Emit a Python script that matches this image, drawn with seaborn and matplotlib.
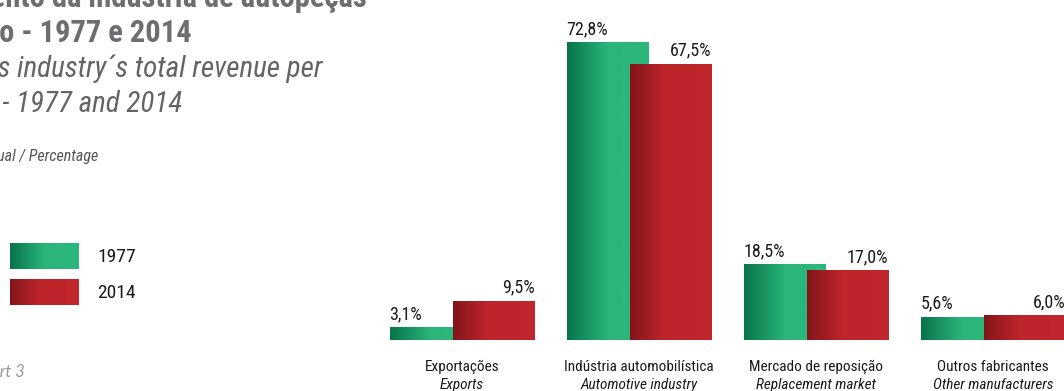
import numpy as np
import pandas as pd
import matplotlib
matplotlib.use("Agg")
import matplotlib.pyplot as plt
from matplotlib import font_manager as fm
from matplotlib.colors import LinearSegmentedColormap
import seaborn as sns

# --- data -------------------------------------------------------------
categories_pt = ["Exportações", "Indústria automobilística",
                 "Mercado de reposição", "Outros fabricantes"]
categories_en = ["Exports", "Automotive industry",
                 "Replacement market", "Other manufacturers"]
years = ["1977", "2014"]
share_1977 = [3.1, 72.8, 18.5, 5.6]
share_2014 = [9.5, 67.5, 17.0, 6.0]

title_pt = ["Faturamento da indústria de autopeças",
            "por destino - 1977 e 2014"]
title_en = ["Auto parts industry´s total revenue per",
            "destination - 1977 and 2014"]
unit_label = "Percentual / Percentage"
source_label = "Gráfico 3 / Chart 3"


def pick(names):
    for n in names:
        try:
            fm.findfont(fm.FontProperties(family=n), fallback_to_default=False)
            return n
        except Exception:
            pass
    return "DejaVu Sans"


NARROW = pick(["Roboto Condensed", "Liberation Sans Narrow", "Liberation Sans"])
SOFT = pick(["Lato", "Open Sans", "DejaVu Sans"])
BODY = NARROW

sns.set_theme(style="white")
plt.rcParams["font.family"] = [BODY, "DejaVu Sans"]

df = pd.DataFrame({
    "categoria": categories_pt * 2,
    "ano": [years[0]] * 4 + [years[1]] * 4,
    "valor": share_1977 + share_2014,
})

W, H = 1064, 391
fig = plt.figure(figsize=(W / 100, H / 100), dpi=100)
ax = fig.add_axes([373.5 / W, 51 / H, 690.3 / W, 327.2 / H])

GREEN_LIGHT = "#2db87a"
RED_LIGHT = "#c0262c"
sns.barplot(data=df, x="categoria", y="valor", hue="ano",
            palette=[GREEN_LIGHT, RED_LIGHT], width=0.712, gap=-0.30,
            legend=False, ax=ax, linewidth=0, saturation=1)

green_cmap = LinearSegmentedColormap.from_list(
    "g", [(0, "#08744a"), (0.5, "#2bb57a"), (1, GREEN_LIGHT)])
red_cmap = LinearSegmentedColormap.from_list(
    "r", [(0, "#82151a"), (0.42, "#bd252b"), (1, RED_LIGHT)])
grad = np.linspace(0, 1, 256)[None, :]

n = len(categories_pt)
patches = list(ax.patches)
for i, p in enumerate(patches):
    cmap = green_cmap if i < n else red_cmap
    x0, y0, w, h = p.get_x(), p.get_y(), p.get_width(), p.get_height()
    im = ax.imshow(grad, extent=[x0, x0 + w, y0, y0 + h], aspect="auto",
                   cmap=cmap, interpolation="bilinear", zorder=2 + i * 0.01)
    im.set_clip_path(p)

# value labels: 1977 left-aligned over its bar, 2014 right-aligned
values = share_1977 + share_2014
for i, p in enumerate(patches):
    txt = f"{values[i]:.1f}%".replace(".", ",")
    if i < n:
        xy, ha = (p.get_x(), p.get_height()), "left"
    else:
        xy, ha = (p.get_x() + p.get_width(), p.get_height()), "right"
    ax.annotate(txt, xy=xy, xytext=(0, 6), textcoords="offset points",
                ha=ha, va="baseline", fontsize=13, color="#1a1a1a",
                zorder=5, annotation_clip=False)

ax.set_xlim(-0.5, 3.4)
ax.set_ylim(0, 80)
ax.set_xlabel("")
ax.set_ylabel("")
ax.set_xticks([])
ax.set_yticks([])
sns.despine(ax=ax, left=True, bottom=True)
ax.patch.set_alpha(0)

for i, (pt, en) in enumerate(zip(categories_pt, categories_en)):
    ax.annotate(pt, xy=(i, 0), xycoords=("data", "axes fraction"),
                xytext=(0, -22), textcoords="offset points",
                ha="center", va="baseline", fontsize=11, color="#1a1a1a",
                annotation_clip=False)
    ax.annotate(en, xy=(i, 0), xycoords=("data", "axes fraction"),
                xytext=(0, -35.3), textcoords="offset points",
                ha="center", va="baseline", fontsize=11, style="italic",
                color="#1a1a1a", annotation_clip=False)

# titles (left part runs off the canvas)
GREY = "#6d6e71"
fig.text(367 / W, 1 - 7 / H, title_pt[0], ha="right", va="baseline",
         fontsize=22, fontweight="bold", color=GREY, family=NARROW)
fig.text(192 / W, 1 - 42 / H, title_pt[1], ha="right", va="baseline",
         fontsize=22, fontweight="bold", color=GREY, family=NARROW)
fig.text(323 / W, 1 - 77 / H, title_en[0], ha="right", va="baseline",
         fontsize=21, style="italic", color="#636466", family=NARROW)
fig.text(182 / W, 1 - 112 / H, title_en[1], ha="right", va="baseline",
         fontsize=21, style="italic", color="#636466", family=NARROW)
fig.text(98 / W, 1 - 161 / H, unit_label, ha="right", va="baseline",
         fontsize=11.5, style="italic", color="#555555")
fig.text(25 / W, 1 - 377 / H, source_label, ha="right", va="baseline",
         fontsize=12, style="italic", color="#9a9a9a", family=SOFT)

# legend swatches
for k, (cmap, top) in enumerate([(green_cmap, 243), (red_cmap, 279)]):
    lax = fig.add_axes([10 / W, 1 - (top + 26) / H, 69 / W, 26 / H])
    lax.imshow(grad, aspect="auto", cmap=cmap, interpolation="bilinear")
    lax.axis("off")
    fig.text(97 / W, 1 - (top + 14) / H, years[k], ha="left", va="center",
             fontsize=14, color="#1a1a1a")

fig.savefig("out.png", dpi=100)
